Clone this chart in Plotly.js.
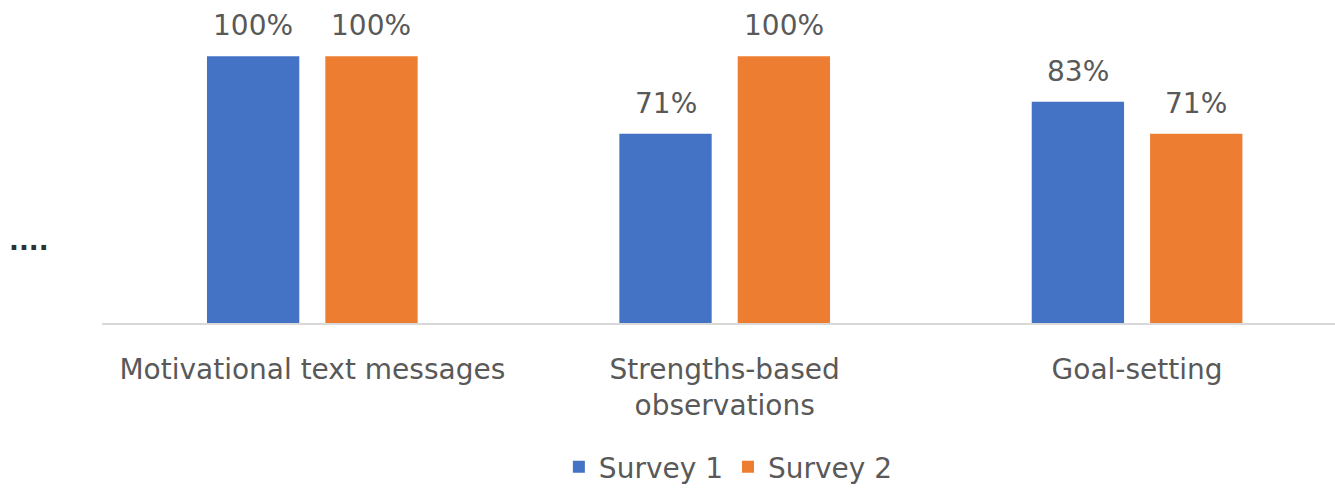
<!DOCTYPE html>
<html>
<head>
<meta charset="utf-8">
<script src="https://cdn.plot.ly/plotly-3.0.1.min.js"></script>
<style>html,body{margin:0;padding:0;background:#fff;}#chart{width:1335px;height:492px;}</style>
</head>
<body>
<div id="chart"></div>
<script>
const categories = ["Motivational text messages", "Strengths-based<br>observations", "Goal-setting"];
const seriesNames = ["Survey 1", "Survey 2"];
const survey1 = [1.00, 0.71, 0.83];
const survey2 = [1.00, 1.00, 0.71];
const colors = ["#4472C4", "#ED7D31"];

const FONT = "'DejaVu Sans', 'Open Sans', sans-serif";
const allSeries = [survey1, survey2];
const traces = allSeries.map((vals, i) => ({
  type: "bar",
  name: seriesNames[i],
  x: categories,
  y: vals,
  marker: {color: colors[i]},
  hoverinfo: "skip"
}));

const offsets = [-59, 59];
const annotations = [];
allSeries.forEach((vals, i) => {
  vals.forEach((v, j) => {
    annotations.push({
      x: categories[j], y: v, xref: "x", yref: "y",
      text: Math.round(v * 100) + "%",
      showarrow: false, xshift: offsets[i], yshift: 12,
      yanchor: "bottom",
      font: {family: FONT, size: 28, color: "#595959"}
    });
  });
});
annotations.push({
  xref: "paper", yref: "paper", x: -0.077, y: 0.255, xanchor: "left", yanchor: "middle",
  text: "<b>....</b>", showarrow: false,
  font: {family: FONT, size: 26, color: "#303030"}
});

const layout = {
  width: 1335, height: 492,
  margin: {l: 102, r: 0, t: 3, b: 165},
  paper_bgcolor: "#fff", plot_bgcolor: "#fff",
  barmode: "group",
  bargap: 0.426,
  bargroupgap: 0.22,
  showlegend: true,
  legend: {
    orientation: "h", x: 0.508, xanchor: "center", y: -0.452, yanchor: "middle",
    font: {family: FONT, size: 28, color: "#595959"},
    itemwidth: 30, tracegroupgap: 0
  },
  xaxis: {
    type: "category",
    range: [-0.51, 2.48],
    showline: true, linecolor: "#d9d9d9", linewidth: 2,
    ticks: "", showgrid: false, zeroline: false,
    ticklabelstandoff: 20,
    tickfont: {family: FONT, size: 28, color: "#595959"}
  },
  yaxis: {
    range: [0, 1.2], visible: false, showgrid: false, zeroline: false
  },
  annotations: annotations
};

Plotly.newPlot("chart", traces, layout, {displayModeBar: false, staticPlot: true});
</script>
</body>
</html>
